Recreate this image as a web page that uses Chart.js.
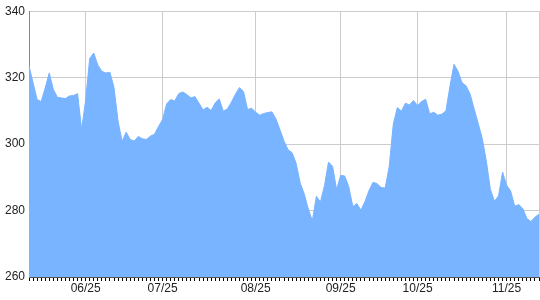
<!DOCTYPE html>
<html>
<head>
<meta charset="utf-8">
<script src="https://cdn.jsdelivr.net/npm/chart.js@4"></script>
<style>
  html, body { margin: 0; padding: 0; background: #fff; }
  #wrap { width: 540px; height: 300px; position: relative; }
</style>
</head>
<body>
<div id="wrap"><canvas id="priceChart"></canvas></div>
<script>
// one value per trading day
const values = [
  323.5, 318.5, 313.4, 312.8, 316.9, 321.4, 316.5, 314.1, 313.9, 313.7,
  314.5, 314.6, 315.2, 304.4, 313.3, 325.8, 327.4, 323.8, 321.9, 321.4,
  321.6, 317.0, 306.9, 300.8, 303.6, 301.4, 300.9, 302.3, 301.6, 301.4,
  302.4, 303.0, 305.3, 307.4, 312.1, 313.4, 313.0, 315.2, 315.7, 314.9,
  313.9, 314.3, 312.3, 310.3, 311.1, 310.1, 312.4, 313.6, 309.9, 310.6,
  312.6, 315.0, 317.0, 315.8, 310.4, 310.8, 309.6, 308.7, 309.2, 309.5,
  309.7, 307.6, 304.3, 300.9, 298.3, 297.4, 294.2, 288.3, 285.0, 280.5,
  276.9, 284.3, 282.6, 287.5, 294.6, 293.3, 286.3, 290.6, 290.4, 287.2,
  281.2, 282.1, 280.1, 282.7, 286.0, 288.5, 288.1, 286.9, 286.8, 293.3,
  306.0, 311.0, 309.9, 312.3, 311.8, 313.1, 311.6, 312.8, 313.5, 309.1,
  309.6, 308.7, 309.0, 310.0, 317.4, 324.0, 321.9, 318.5, 317.5, 315.0,
  310.5, 306.1, 301.6, 294.8, 286.3, 282.8, 284.4, 291.6, 287.6, 285.9,
  281.3, 281.8, 280.6, 277.6, 276.7, 278.0, 278.9
];
const categories = values.map((v, i) => i);
const tickLabels = ["06/25", "07/25", "08/25", "09/25", "10/25", "11/25"];
const tickIndex = [14, 33, 56, 77, 96, 118];
const yTicks = [260, 280, 300, 320, 340];

const gridGrey = "#cccccc";
const fontSpec = { family: "Arial, 'Liberation Sans', sans-serif", size: 12 };

const ctx = document.getElementById("priceChart").getContext("2d");
new Chart(ctx, {
  type: "line",
  data: {
    labels: categories,
    datasets: [{
      data: values,
      fill: "start",
      backgroundColor: "#78b4ff",
      borderColor: "#78b4ff",
      borderWidth: 1,
      pointRadius: 0,
      tension: 0
    }]
  },
  options: {
    responsive: true,
    maintainAspectRatio: false,
    animation: false,
    layout: { padding: { top: 8, right: 1, bottom: 0, left: 0 } },
    plugins: {
      legend: { display: false },
      tooltip: { enabled: false }
    },
    scales: {
      x: {
        type: "category",
        offset: false,
        afterFit: (scale) => { scale.height = 23; },
        border: { color: "#555555" },
        grid: {
          color: (c) => {
            const i = c.index;
            if (tickIndex.includes(i) || i === values.length - 1) return gridGrey;
            return "rgba(0,0,0,0)";
          },
          tickColor: "#000000",
          tickLength: 4,
          drawTicks: true
        },
        ticks: {
          autoSkip: false,
          maxRotation: 0,
          minRotation: 0,
          padding: 0,
          color: "#222222",
          font: fontSpec,
          callback: (val, i) => {
            const k = tickIndex.indexOf(i);
            return k >= 0 ? tickLabels[k] : "";
          }
        }
      },
      y: {
        min: yTicks[0],
        max: yTicks[yTicks.length - 1],
        afterFit: (scale) => { scale.width = 29; },
        afterBuildTicks: (scale) => { scale.ticks = yTicks.map(v => ({ value: v })); },
        border: { color: "#888888" },
        grid: { color: gridGrey, drawTicks: false },
        ticks: {
          padding: 4,
          color: "#222222",
          font: fontSpec
        }
      }
    }
  }
});
</script>
</body>
</html>
